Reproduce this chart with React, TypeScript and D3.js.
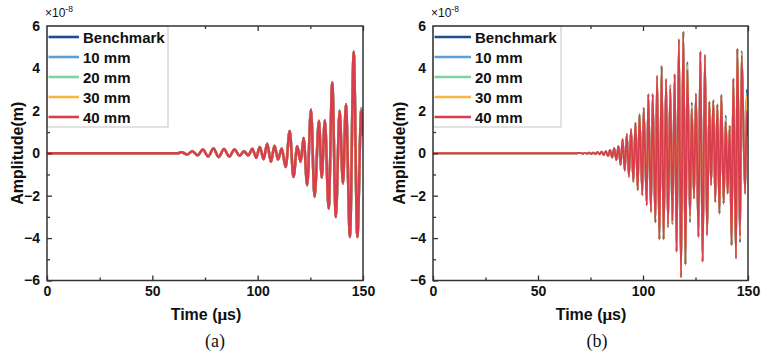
import { useEffect, useRef } from 'react'
import * as d3 from 'd3'

const W = 767, H = 356
const TOP = 26, BOTTOM = 280.5
const SANS = '"Liberation Sans", Arial, sans-serif'
const SERIF = '"Liberation Serif", "Times New Roman", serif'

const seriesNames = ['Benchmark', '10 mm', '20 mm', '30 mm', '40 mm']
const seriesColors = ['#1d4f8f', '#5d9fd8', '#7fd3a2', '#fcb441', '#d83f4e']

const timeTicks = [0, 50, 100, 150]
const timeMinor = [25, 75, 125]
const ampTicks = [-6, -4, -2, 0, 2, 4, 6]
const ampMinor = [-5, -3, -1, 1, 3, 5]

// (a) sampled extrema of the 40 mm trace (µs, ×1e-8 m)
const aTimes = [0, 62, 64, 66.5, 69, 71.5, 74, 76.5, 79, 81.5, 84, 86.5,
  89, 91.5, 93.5, 95.5, 97.5, 99.3, 101, 102.8, 104.5, 106.3,
  108, 109.7, 111.4, 113.3, 115.2, 117, 118.8, 120.4, 121.8, 123.5,
  125.3, 127, 129.1, 130.4, 131.9, 133.7, 135.4, 137.1, 138.9, 140.5,
  141.9, 143.8, 145.6, 147.3, 149.2, 150]
const a40 = [0, 0, 0.05, -0.06, 0.1, -0.1, 0.18, -0.16, 0.22, -0.18, 0.2, -0.16,
  0.18, -0.12, 0.1, -0.1, 0.22, -0.22, 0.3, -0.28, 0.45, -0.4,
  0.35, -0.3, 0.22, -0.65, 1.05, -1.12, 0.33, -0.41, 0.72, -1.51,
  2.06, -2.06, 1.53, -1.15, 1.56, -2.61, 3.34, -3.01, 2.0, -1.43,
  2.31, -3.95, 4.79, -3.95, 2.03, 0.8]
// where the other traces part from the 40 mm one
const aTipTimes = [97.5, 99.3, 149.2, 150]
const aBenchTips = [0.14, -0.15, 2.12, 1.4]
const a10Tips = [0.16, -0.17, 2.1, 1.2]
const a20Tips = [0.18, -0.19, 2.08, 1.1]
const a30Tips = [0.2, -0.2, 2.06, 1.0]

// (b)
const bTimes = [0, 68, 70.3, 71.3, 72.3, 73.3, 74.3, 75.3, 76.3, 77.3, 78.3, 79.3,
  80.3, 81.3, 82.3, 83.3, 84.3, 85.3, 86.3, 87.3, 88.3, 89.3, 90.3, 91.3, 92.3, 93.3, 94.3,
  95.4, 96.4, 97.5, 98.3, 99.7, 100.3, 101.8, 102.5, 103.8, 104.6,
  105.9, 106.7, 107.8, 108.9, 109.8, 111.0, 111.9, 113.0, 114.0, 115.1,
  116.0, 117.1, 118.1, 119.2, 120.2, 121.1, 122.4, 123.2, 124.3, 125.2,
  126.4, 127.3, 128.4, 129.5, 130.5, 131.6, 132.4, 133.5, 134.4, 135.4,
  136.4, 137.3, 138.4, 139.4, 140.3, 141.3, 142.2, 143.0, 144.3, 144.9,
  146.2, 147.0, 148.6, 149.4, 150]
const b40 = [0, 0, 0.02, -0.02, 0.02, -0.02, 0.03, -0.03, 0.03, -0.04, 0.05, -0.05,
  0.07, -0.08, 0.1, -0.13, 0.16, -0.2, 0.24, -0.32, 0.35, -0.55, 0.66, -0.82, 0.9, -1.1, 1.13,
  -1.35, 1.44, -1.74, 1.84, -1.98, 2.15, -2.45, 2.78, -2.76, 2.78,
  -3.26, 3.64, -4.06, 4.11, -4.06, 3.49, -3.39, 3.05, -3.18, 3.72,
  -4.64, 5.37, -5.85, 5.73, -5.24, 3.95, -2.95, 2.1, -2.13, 2.81,
  -3.94, 4.8, -5.11, 4.63, -3.86, 2.43, -1.5, 2.5, -2.3, 2.3,
  -2.84, 2.75, -2.37, 1.5, -1.9, 1.3, -4.33, 3.51, -4.96, 4.93,
  -3.9, 4.6, -1.9, 2.0, 0.8]
const bTipTimes = [111.9, 113.0, 114.0, 121.1, 122.4, 123.2, 139.4, 146.2, 147.0, 149.4]
const bBenchTips = [-3.5, 3.22, -3.35, 4.3, -3.25, 2.4, 1.78, -4.2, 4.82, 3.0]
const b10Tips = [-3.45, 3.18, -3.3, 4.2, -3.15, 2.3, 1.7, -4.1, 4.75, 2.85]
const b20Tips = [-3.4, 3.12, -3.25, 4.1, -3.05, 2.2, 1.62, -4.0, 4.7, 2.5]
const b30Tips = [-3.42, 3.15, -3.25, 4.15, -3.1, 2.25, 1.65, -4.05, 4.72, 2.7]

interface Panel {
  id: string
  left: number
  right: number
  times: number[]
  base: number[]
  tipTimes: number[]
  tips: number[][]   // benchmark, 10, 20, 30 mm
  lineW: number
  legendW: number
  legendTextDx: number
  titleX: number
  tag: string
  tagX: number
  timeX: number
}

const panels: Panel[] = [
  { id: 'a', left: 47, right: 363, times: aTimes, base: a40, tipTimes: aTipTimes,
    tips: [aBenchTips, a10Tips, a20Tips, a30Tips], lineW: 2.5, legendW: 121, legendTextDx: 36,
    titleX: 23, tag: '(a)', tagX: 215, timeX: 206 },
  { id: 'b', left: 433, right: 748, times: bTimes, base: b40, tipTimes: bTipTimes,
    tips: [bBenchTips, b10Tips, b20Tips, b30Tips], lineW: 1.9, legendW: 128, legendTextDx: 42,
    titleX: 405, tag: '(b)', tagX: 597, timeX: 591 },
]

function seriesValues(p: Panel, s: number) {
  if (s === 4) return p.base
  return p.base.map((v, i) => {
    const k = p.tipTimes.indexOf(p.times[i])
    return k >= 0 ? p.tips[s][k] : v
  })
}

function drawPanel(svg: d3.Selection<SVGSVGElement, unknown, null, undefined>, p: Panel) {
  const x = d3.scaleLinear().domain([0, 150]).range([p.left, p.right])
  const y = d3.scaleLinear().domain([-6, 6]).range([BOTTOM, TOP])
  const g = svg.append('g')

  g.append('clipPath').attr('id', `clip-${p.id}`)
    .append('rect').attr('x', p.left).attr('y', TOP)
    .attr('width', p.right - p.left).attr('height', BOTTOM - TOP)

  const line = d3.line<number>()
    .x((_, i) => x(p.times[i])).y(v => y(v))
    .curve(d3.curveMonotoneX)

  const traces = g.append('g').attr('clip-path', `url(#clip-${p.id})`)
  seriesNames.forEach((_, s) => {
    traces.append('path').datum(seriesValues(p, s))
      .attr('fill', 'none').attr('stroke', seriesColors[s])
      .attr('stroke-width', p.lineW).attr('stroke-linejoin', 'round')
      .attr('d', line)
  })

  const styleAxis = (ax: d3.Selection<SVGGElement, unknown, null, undefined>) => {
    ax.select('.domain').remove()
    ax.selectAll('.tick line').attr('stroke', '#333').attr('stroke-width', 1.3)
    ax.selectAll<SVGTextElement, unknown>('.tick text')
      .attr('font-family', SANS).attr('font-weight', 'bold')
      .attr('font-size', 14).attr('fill', '#111')
  }

  // ticks point inward
  g.append('g').attr('transform', `translate(0,${BOTTOM})`)
    .call(d3.axisBottom(x).tickValues(timeTicks).tickSizeInner(-5).tickSizeOuter(0)
      .tickPadding(6).tickFormat(d3.format('d')))
    .call(styleAxis)
  g.append('g').attr('transform', `translate(0,${BOTTOM})`)
    .call(d3.axisBottom(x).tickValues(timeMinor).tickSizeInner(-3).tickSizeOuter(0).tickFormat(() => ''))
    .call(styleAxis)
  g.append('g').attr('transform', `translate(0,${TOP})`)
    .call(d3.axisTop(x).tickValues(timeTicks).tickSizeInner(-5).tickSizeOuter(0).tickFormat(() => ''))
    .call(styleAxis)
  g.append('g').attr('transform', `translate(0,${TOP})`)
    .call(d3.axisTop(x).tickValues(timeMinor).tickSizeInner(-3).tickSizeOuter(0).tickFormat(() => ''))
    .call(styleAxis)
  g.append('g').attr('transform', `translate(${p.left},0)`)
    .call(d3.axisLeft(y).tickValues(ampTicks).tickSizeInner(-5).tickSizeOuter(0)
      .tickPadding(7).tickFormat(d3.format('d')))
    .call(styleAxis)
  g.append('g').attr('transform', `translate(${p.left},0)`)
    .call(d3.axisLeft(y).tickValues(ampMinor).tickSizeInner(-3).tickSizeOuter(0).tickFormat(() => ''))
    .call(styleAxis)

  // legend
  const lg = g.append('g')
  lg.append('rect').attr('x', p.left).attr('y', TOP)
    .attr('width', p.legendW).attr('height', 101)
    .attr('fill', '#fff').attr('stroke', '#c4c4c4').attr('stroke-width', 1)
  seriesNames.forEach((name, i) => {
    const ly = TOP + 11 + i * 20
    lg.append('line').attr('x1', p.left + 1.5).attr('x2', p.left + p.legendTextDx - 4)
      .attr('y1', ly).attr('y2', ly)
      .attr('stroke', seriesColors[i]).attr('stroke-width', 2.6)
    lg.append('text').attr('x', p.left + p.legendTextDx).attr('y', ly)
      .attr('dominant-baseline', 'central')
      .attr('font-family', SANS).attr('font-weight', 'bold').attr('font-size', 15)
      .attr('fill', '#111').text(name)
  })

  // frame
  g.append('rect').attr('x', p.left).attr('y', TOP)
    .attr('width', p.right - p.left).attr('height', BOTTOM - TOP)
    .attr('fill', 'none').attr('stroke', '#333').attr('stroke-width', 1.5)

  // ×10^-8 multiplier
  const mult = g.append('text').attr('x', p.left - 2).attr('y', 17)
    .attr('font-family', SANS).attr('font-size', 12).attr('fill', '#111')
  mult.append('tspan').text('×10')
  mult.append('tspan').attr('font-size', 8.5).attr('dy', -5).text('-8')

  g.append('text')
    .attr('transform', `translate(${p.titleX},${(TOP + BOTTOM) / 2}) rotate(-90)`)
    .attr('text-anchor', 'middle')
    .attr('font-family', SANS).attr('font-weight', 'bold').attr('font-size', 16)
    .attr('fill', '#111').text('Amplitude(m)')

  const tl = g.append('text').attr('x', p.timeX).attr('y', 320).attr('text-anchor', 'middle')
    .attr('font-family', SANS).attr('font-weight', 'bold').attr('font-size', 16)
    .attr('fill', '#111')
  tl.append('tspan').text('Time (')
  tl.append('tspan').attr('font-family', SERIF).attr('font-size', 17).text('μ')
  tl.append('tspan').text('s)')

  g.append('text').attr('x', p.tagX).attr('y', 347).attr('text-anchor', 'middle')
    .attr('font-family', SERIF).attr('font-size', 18)
    .attr('fill', '#111').text(p.tag)
}

export default function App() {
  const svgRef = useRef<SVGSVGElement>(null)

  useEffect(() => {
    const svg = d3.select(svgRef.current!)
    svg.selectAll('*').remove()
    panels.forEach(p => drawPanel(svg, p))
  }, [])

  return (
    <svg ref={svgRef} width={W} height={H} viewBox={`0 0 ${W} ${H}`}
      style={{ position: 'absolute', left: 0, top: 0, display: 'block', background: '#fff' }} />
  )
}
